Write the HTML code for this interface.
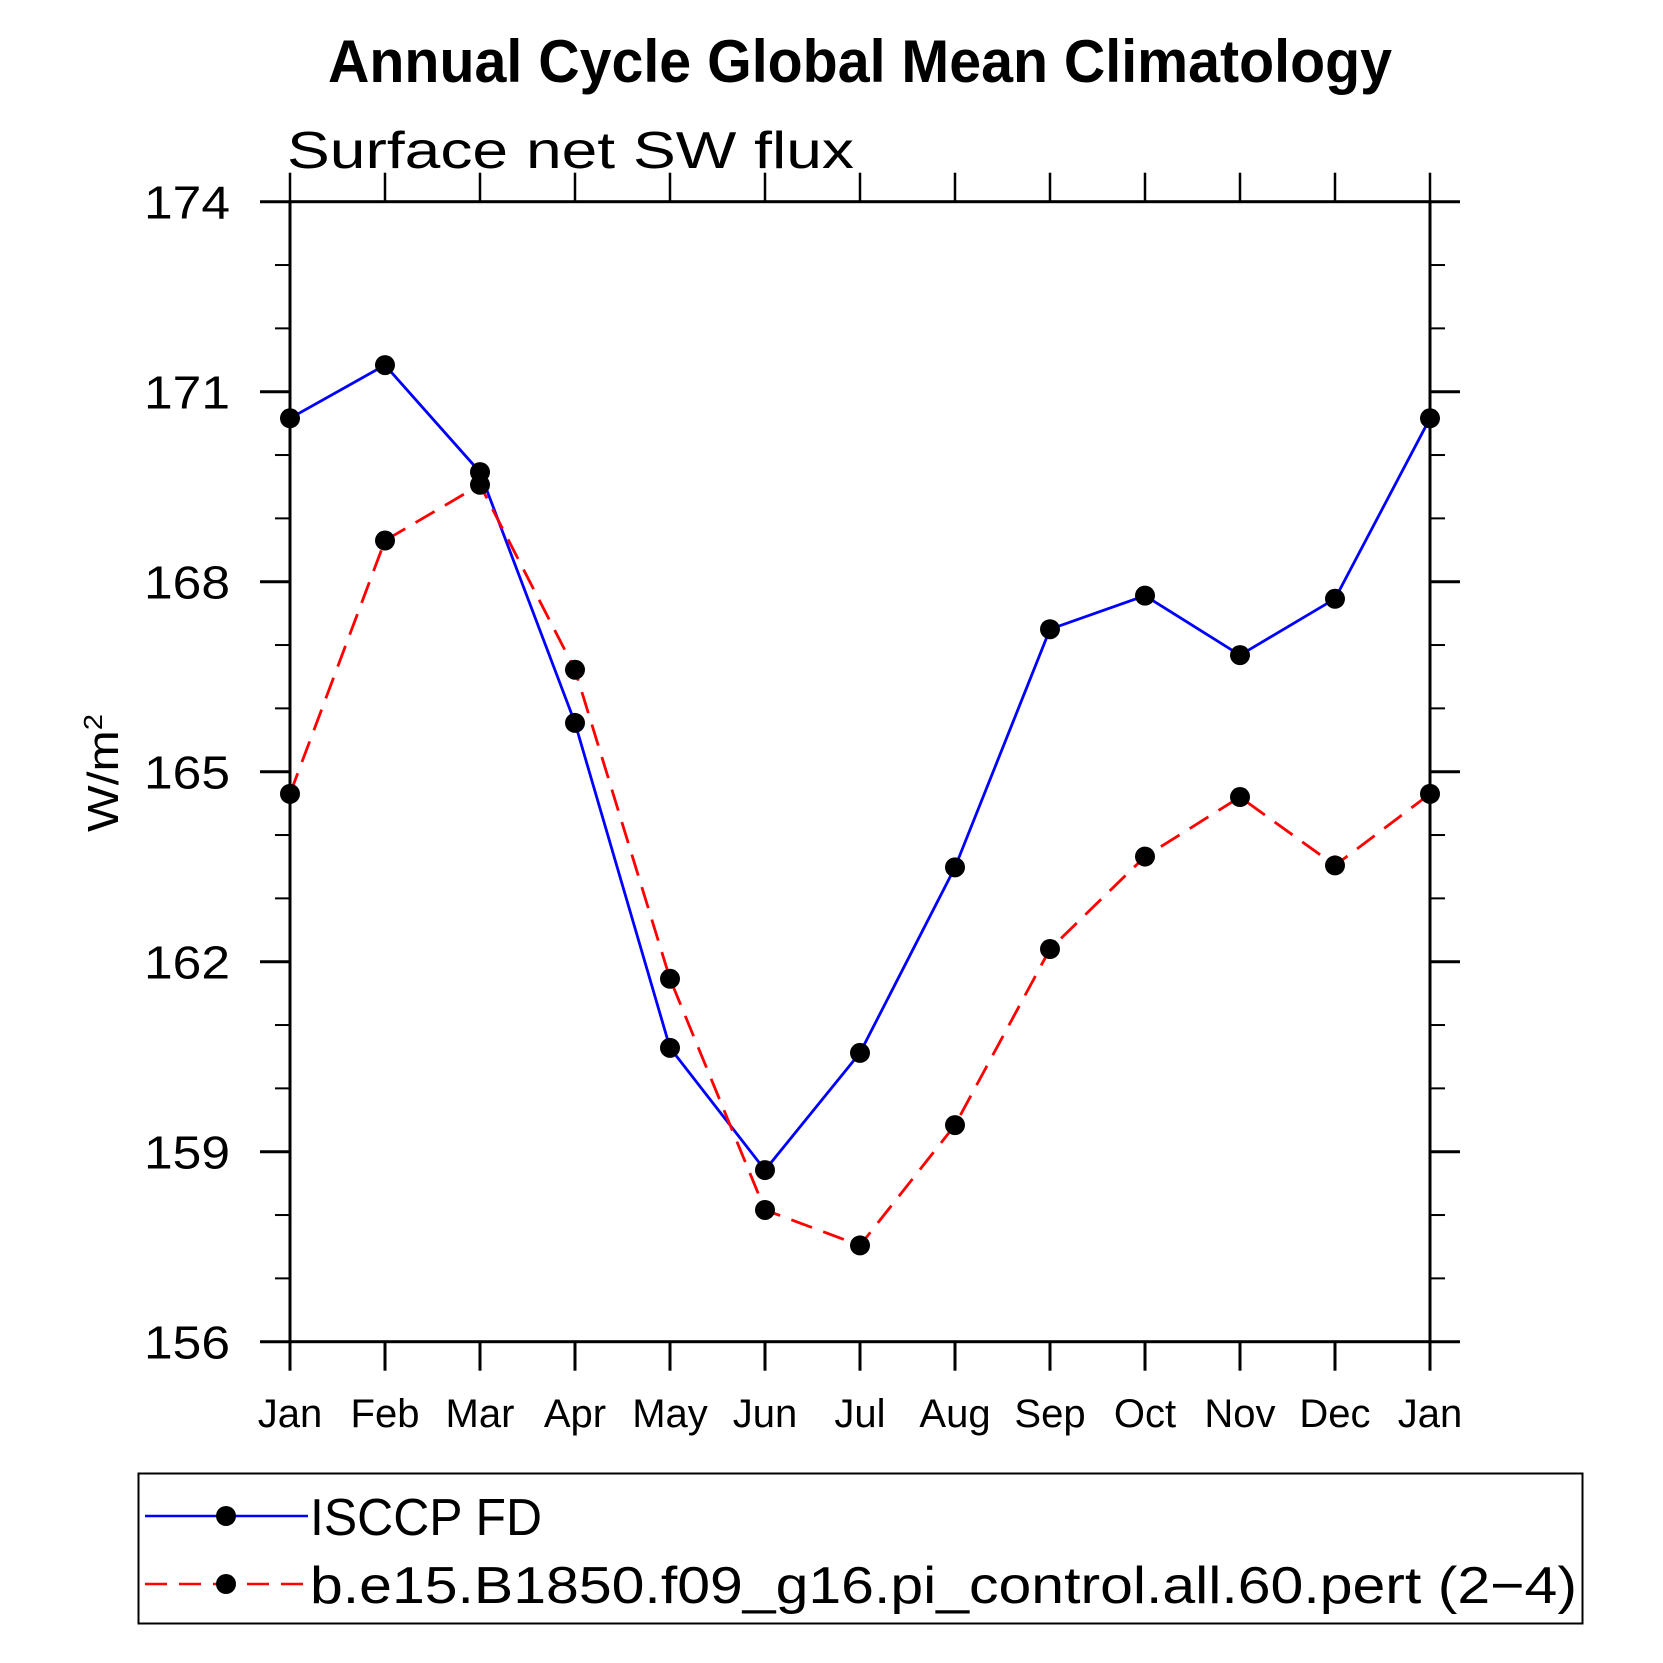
<!DOCTYPE html>
<html><head><meta charset="utf-8"><style>html,body{margin:0;padding:0;background:#fff}svg{display:block}</style></head>
<body>
<svg id="chart" width="1663" height="1663" viewBox="0 0 1663 1663" xmlns="http://www.w3.org/2000/svg" font-family="'Liberation Sans', sans-serif">
<rect width="1663" height="1663" fill="#fff"/>
<text x="860" y="82" text-anchor="middle" font-size="60" font-weight="bold" textLength="1064" lengthAdjust="spacingAndGlyphs">Annual Cycle Global Mean Climatology</text>
<text x="287" y="168" font-size="52" textLength="567" lengthAdjust="spacingAndGlyphs">Surface net SW flux</text>
<text transform="translate(118,773) rotate(-90)" text-anchor="middle" font-size="44" textLength="118" lengthAdjust="spacingAndGlyphs">W/m<tspan dy="-16" font-size="26">2</tspan></text>
<g id="axes"></g>
<g id="series"></g>
<rect x="138.5" y="1473.5" width="1444" height="150" fill="none" stroke="#000" stroke-width="2"/>
<g>
<line x1="145" y1="1516" x2="308" y2="1516" stroke="#0000ff" stroke-width="2.5"/>
<circle cx="226" cy="1516" r="10" fill="#000"/>
<text x="310" y="1535" font-size="52" textLength="232" lengthAdjust="spacingAndGlyphs">ISCCP FD</text>
</g>
<g>
<line x1="145" y1="1584" x2="308" y2="1584" stroke="#ff0000" stroke-width="2.5" stroke-dasharray="22,12"/>
<circle cx="226" cy="1584" r="10" fill="#000"/>
<text x="310" y="1603" font-size="52" textLength="1267" lengthAdjust="spacingAndGlyphs">b.e15.B1850.f09_g16.pi_control.all.60.pert (2−4)</text>
</g>
</svg>
<script>
const months = ["Jan","Feb","Mar","Apr","May","Jun","Jul","Aug","Sep","Oct","Nov","Dec","Jan"];
const isccp = [170.58,171.42,169.73,165.77,160.64,158.71,160.56,163.49,167.25,167.78,166.84,167.73,170.58];
const model = [164.65,168.65,169.53,166.61,161.73,158.08,157.52,159.42,162.20,163.66,164.60,163.52,164.65];
const yTicks = [156,159,162,165,168,171,174];
const yMinor = [157,158,160,161,163,164,166,167,169,170,172,173];

const L=290,R=1430,T=201.7,B=1341.7,YMIN=156,YMAX=174;
const NS="http://www.w3.org/2000/svg";
function xs(i){return L+(R-L)*i/(months.length-1);}
function ys(v){return B-(v-YMIN)/(YMAX-YMIN)*(B-T);}
function mk(tag,attrs,parent){const e=document.createElementNS(NS,tag);for(const k in attrs)e.setAttribute(k,attrs[k]);parent.appendChild(e);return e;}
const axes=document.getElementById('axes');
const frame=mk('rect',{x:L,y:T,width:R-L,height:B-T,fill:'none',stroke:'#000','stroke-width':3},axes);


yTicks.forEach(v=>{
  const y=ys(v);
  const t1=mk('line',{x1:L-30,y1:y,x2:L,y2:y,stroke:'#000','stroke-width':3},axes);
  
  
  const t2=mk('line',{x1:R,y1:y,x2:R+30,y2:y,stroke:'#000','stroke-width':3},axes);
  
  
  const lb=mk('text',{x:L-60,y:y+17,'text-anchor':'end','font-size':46,textLength:86,lengthAdjust:'spacingAndGlyphs'},axes);
  lb.textContent=v;
  
  
});
yMinor.forEach(v=>{
  const y=ys(v);
  const a=mk('line',{x1:L-15,y1:y,x2:L,y2:y,stroke:'#000','stroke-width':2},axes);
  
  
  const b=mk('line',{x1:R,y1:y,x2:R+15,y2:y,stroke:'#000','stroke-width':2},axes);
  
  
});
months.forEach((m,i)=>{
  const x=xs(i);
  const a=mk('line',{x1:x,y1:B,x2:x,y2:B+29,stroke:'#000','stroke-width':3},axes);
  
  
  const b=mk('line',{x1:x,y1:T-29,x2:x,y2:T,stroke:'#000','stroke-width':2.5},axes);
  
  
  const lb=mk('text',{x:x,y:1427,'text-anchor':'middle','font-size':40},axes);
  lb.textContent=m;
  
  
});
const series=document.getElementById('series');
function draw(vals,color,dash,name){
  const g=mk('g',{},series);
  
  
  const pts=vals.map((v,i)=>xs(i)+','+ys(v)).join(' ');
  const pl=mk('polyline',{points:pts,fill:'none',stroke:color,'stroke-width':2.8,'stroke-dasharray':dash},g);
  
  
  vals.forEach((v,i)=>{
    const c=mk('circle',{cx:xs(i),cy:ys(v),r:10,fill:'#000'},g);
    
    
  });
}
draw(isccp,'#0000ff','none','isccp-series');
draw(model,'#ff0000','22,12','model-series');
</script>
</body></html>
